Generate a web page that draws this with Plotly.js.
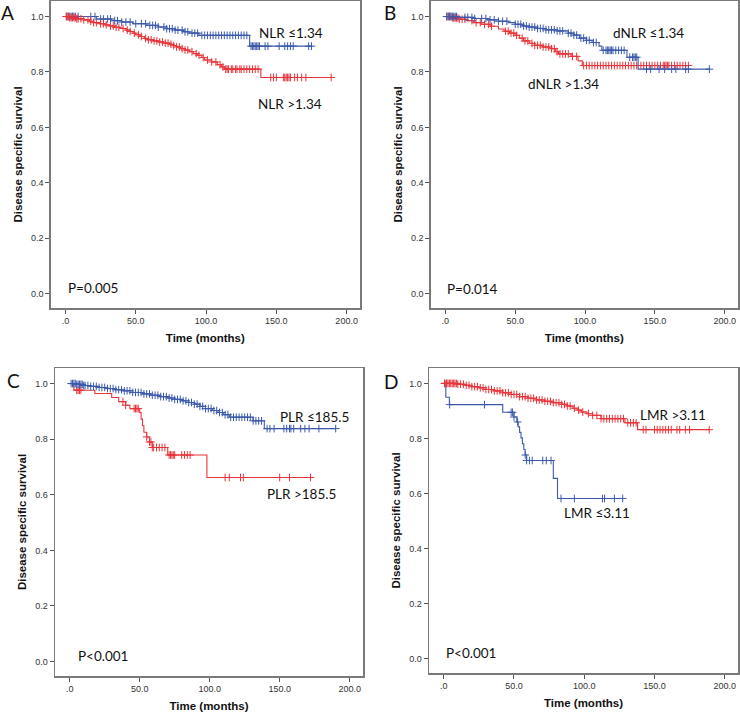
<!DOCTYPE html>
<html>
<head>
<meta charset="utf-8">
<script src="https://cdn.plot.ly/plotly-3.0.1.min.js"></script>
<style>html,body{margin:0;padding:0;background:#fff;}#chart{width:740px;height:712px;}</style>
</head>
<body>
<div id="chart"></div>
<script>
// ---------- DATA ----------
const panelLetters = ['A', 'B', 'C', 'D'];
const pValues = ['P=0.005', 'P=0.014', 'P<0.001', 'P<0.001'];
const xTickVals = [0, 50, 100, 150, 200];
const xTickText = ['.0', '50.0', '100.0', '150.0', '200.0'];
const yTickVals = [0, 0.2, 0.4, 0.6, 0.8, 1.0];
const yTickText = ['0.0', '0.2', '0.4', '0.6', '0.8', '1.0'];

// Panel A : NLR
const aLowLabel = 'NLR ≤1.34';
const aLowEvents = [22, 33, 40, 48, 58, 66, 72, 78, 84, 88, 95, 131];
const aLowSurv = [0.991, 0.985, 0.980, 0.974, 0.968, 0.962, 0.956, 0.951, 0.945, 0.940, 0.932, 0.893];
const aLowCensor = [1,2,3,4,5,6,7,9,18,21,25,27,30,32,35,37,40,43,46,50,54,57,60,62,64,66,70,72,74,76,78,80,83,85,87,90,92,94,97,99,101,103,105,107,109,111,113,115,117,119,121,123,125,127,129,132,133,134,135,136,137,138,142,144,152,156,158,160,162,173,175];
const aHighLabel = 'NLR >1.34';
const aHighEvents = [3, 8, 13, 17, 20, 24, 28, 31, 35, 39, 43, 46, 48, 50, 53, 56, 58, 62, 66, 70, 74, 77, 79, 82, 85, 88, 91, 94, 97, 99, 104, 108, 111, 113, 139];
const aHighSurv = [0.996, 0.992, 0.988, 0.983, 0.978, 0.974, 0.970, 0.966, 0.961, 0.957, 0.951, 0.946, 0.940, 0.934, 0.928, 0.921, 0.916, 0.912, 0.908, 0.904, 0.900, 0.895, 0.890, 0.884, 0.879, 0.873, 0.866, 0.860, 0.852, 0.843, 0.836, 0.826, 0.818, 0.810, 0.780];
const aHighCensor = [0.5,1,2,3,4,5,6,7,8,9,11,13,16,18,20,22,25,27,29,32,34,36,38,41,44,46,49,52,54,57,59,61,63,65,67,69,71,73,75,77,79,81,83,85,87,90,93,95,98,101,104,107,110,112,114,115,116,118,119,121,122,124,125,127,129,131,133,135,137,146,148,150,155,156,157,158,159,160,163,165,168,171,189];

// Panel B : dNLR
const bLowLabel = 'dNLR ≤1.34';
const bLowEvents = [10, 20, 30, 38, 45, 50, 55, 60, 66, 72, 80, 88, 92, 96, 101, 105, 110, 112, 130, 138];
const bLowSurv = [0.997, 0.993, 0.988, 0.983, 0.978, 0.972, 0.966, 0.962, 0.957, 0.952, 0.948, 0.940, 0.933, 0.922, 0.914, 0.906, 0.893, 0.878, 0.853, 0.810];
const bLowCensor = [1,2,3,4,5,6,7,8,14,16,19,21,26,29,32,35,38,41,44,50,52,54,56,58,60,62,64,66,68,70,72,74,76,78,80,82,84,88,90,92,94,97,99,101,103,106,108,113,115,116,117,118,119,120,122,124,126,128,132,134,135,136,137,144,147,153,157,162,165,172,174,189];
const bHighLabel = 'dNLR >1.34';
const bHighEvents = [5, 10, 15, 20, 26, 32, 38, 42, 46, 50, 53, 56, 60, 64, 70, 76, 79, 81, 90, 95, 98];
const bHighSurv = [0.995, 0.990, 0.985, 0.978, 0.972, 0.965, 0.955, 0.947, 0.940, 0.932, 0.922, 0.912, 0.903, 0.896, 0.890, 0.884, 0.873, 0.865, 0.856, 0.840, 0.823];
const bHighCensor = [1,2,3,4,5,6,7,8,9,10,12,14,19,22,25,28,31,33,43,45,47,49,51,55,57,59,62,64,66,68,70,72,74,76,78,80,82,84,86,88,91,94,99,101,103,105,107,109,111,113,115,117,119,121,123,125,127,129,131,133,135,137,140,142,144,146,148,150,152,154,156,157,158,159,160,162,164,166,168,170,172,174];

// Panel C : PLR
const cLowLabel = 'PLR ≤185.5';
const cLowEvents = [5, 10, 15, 20, 26, 32, 38, 45, 52, 58, 64, 70, 75, 80, 85, 89, 93, 97, 102, 106, 110, 114, 131, 139];
const cLowSurv = [0.997, 0.993, 0.990, 0.986, 0.982, 0.978, 0.974, 0.968, 0.963, 0.958, 0.953, 0.948, 0.943, 0.938, 0.932, 0.926, 0.918, 0.910, 0.903, 0.896, 0.888, 0.879, 0.866, 0.838];
const cLowCensor = [1,2,3,4,5,6,7,8,9,10,11,13,15,17,19,21,23,25,27,29,31,33,35,37,39,41,43,45,47,49,51,53,55,57,59,61,63,65,67,69,71,73,75,77,79,81,83,85,87,89,91,93,95,97,99,101,103,105,107,109,111,113,115,117,119,121,123,125,127,129,131,133,135,137,141,143,146,153,155,157,158,160,165,168,171,178,190];
const cHighLabel = 'PLR >185.5';
const cHighEvents = [3, 18, 30, 35, 40, 43, 50, 51, 52, 53, 55, 57, 59, 70, 98];
const cHighSurv = [0.976, 0.964, 0.950, 0.935, 0.922, 0.910, 0.896, 0.872, 0.848, 0.825, 0.808, 0.790, 0.770, 0.743, 0.662];
const cHighCensor = [5,6,7,8,38,40,46,47,48,49,55,57,58,59,60,62,64,66,68,71,72,73,74,75,80,82,84,86,111,114,122,124,150,157,172];

// Panel D : LMR
const dHighLabel = 'LMR >3.11';
const dHighEvents = [10, 15, 20, 25, 30, 36, 42, 48, 54, 60, 66, 72, 78, 84, 88, 92, 95, 98, 102, 106, 112, 129, 138];
const dHighSurv = [0.997, 0.993, 0.988, 0.984, 0.978, 0.973, 0.966, 0.960, 0.952, 0.946, 0.940, 0.935, 0.930, 0.924, 0.918, 0.910, 0.903, 0.896, 0.890, 0.884, 0.872, 0.857, 0.832];
const dHighCensor = [0.5,1,2,3,4,5,6,7,8,9,10,12,14,16,18,20,22,24,26,28,30,32,34,36,38,40,42,44,46,48,50,52,54,56,58,60,62,64,66,68,70,72,74,76,78,80,82,84,86,88,90,93,96,99,103,106,109,112,114,116,118,120,122,124,126,128,131,133,135,137,142,144,150,152,154,156,158,160,162,166,168,172,175,189];
const dLowLabel = 'LMR ≤3.11';
const dLowEvents = [1.5, 4, 42, 50, 52, 53, 54, 55, 56, 57, 58, 59, 78, 81];
const dLowSurv = [0.950, 0.923, 0.895, 0.878, 0.860, 0.842, 0.822, 0.802, 0.781, 0.760, 0.740, 0.720, 0.655, 0.582];
const dLowCensor = [4.2, 29, 48, 49, 50, 52.6, 58, 59, 61, 63, 70.5, 73, 76.4, 83.5, 93, 113, 114.5, 121.5, 127.4];

// ---------- STYLE ----------
const RED = '#e8343a';
const BLUE = '#3c5aac';

function stepAt(events, surv, t) {
  let s = 1;
  for (let i = 0; i < events.length; i++) { if (events[i] <= t) s = surv[i]; }
  return s;
}

function kmTraces(events, surv, censor, color, xa, ya, name) {
  const end = Math.max(...censor, ...events);
  const lx = [0].concat(events, [end]);
  const ly = [1].concat(surv, [surv[surv.length - 1]]);
  const line = {
    type: 'scatter', mode: 'lines', x: lx, y: ly, xaxis: xa, yaxis: ya,
    line: {shape: 'hv', color: color, width: 1.1}, name: name, showlegend: false, hoverinfo: 'skip'
  };
  const marks = {
    type: 'scatter', mode: 'markers', x: censor, y: censor.map(t => stepAt(events, surv, t)),
    xaxis: xa, yaxis: ya, name: name + ' censored', showlegend: false,
    marker: {symbol: 'cross-thin', size: 5.5, color: color, line: {color: color, width: 1}}
  };
  return [line, marks];
}

const data = [].concat(
  kmTraces(aLowEvents, aLowSurv, aLowCensor, BLUE, 'x', 'y', aLowLabel),
  kmTraces(aHighEvents, aHighSurv, aHighCensor, RED, 'x', 'y', aHighLabel),
  kmTraces(bHighEvents, bHighSurv, bHighCensor, RED, 'x2', 'y2', bHighLabel),
  kmTraces(bLowEvents, bLowSurv, bLowCensor, BLUE, 'x2', 'y2', bLowLabel),
  kmTraces(cHighEvents, cHighSurv, cHighCensor, RED, 'x3', 'y3', cHighLabel),
  kmTraces(cLowEvents, cLowSurv, cLowCensor, BLUE, 'x3', 'y3', cLowLabel),
  kmTraces(dLowEvents, dLowSurv, dLowCensor, BLUE, 'x4', 'y4', dLowLabel),
  kmTraces(dHighEvents, dHighSurv, dHighCensor, RED, 'x4', 'y4', dHighLabel)
);

const W = 740, H = 712;
// panel frames in pixels [left, right, top, bottom]
const frames = [[50.7, 360, 1, 308], [430.7, 738, 1, 308], [55, 363, 368, 676], [429, 738, 368, 673]];

const tickFont = {family: '"Liberation Sans", Arial, sans-serif', size: 9, color: '#333'};
const titleFont = {family: '"Liberation Sans", Arial, sans-serif', size: 11.5, color: '#111', weight: 'bold'};

function xAxis(i, f) {
  return {
    domain: [f[0] / W, f[1] / W], anchor: 'y' + (i ? i + 1 : ''), range: [-10.5, 209.5],
    tickmode: 'array', tickvals: xTickVals, ticktext: xTickText, ticks: 'outside', ticklen: 4,
    tickcolor: '#555', tickwidth: 1, tickfont: tickFont, showgrid: false, zeroline: false,
    showline: true, mirror: true, linecolor: '#7a7a7a', linewidth: 1.5,
    title: {text: '<b>Time (months)</b>', font: titleFont, standoff: 8}, fixedrange: true
  };
}
function yAxis(i, f) {
  return {
    domain: [1 - f[3] / H, 1 - f[2] / H], anchor: 'x' + (i ? i + 1 : ''), range: [-0.052, 1.056],
    tickmode: 'array', tickvals: yTickVals, ticktext: yTickText, ticks: 'outside', ticklen: 4,
    tickcolor: '#555', tickwidth: 1, tickfont: tickFont, showgrid: false, zeroline: false,
    showline: true, mirror: true, linecolor: '#7a7a7a', linewidth: 1.5,
    title: {text: '<b>Disease specific survival</b>', font: titleFont, standoff: 6}, fixedrange: true
  };
}

const layout = {
  width: W, height: H, margin: {l: 0, r: 0, t: 0, b: 0}, paper_bgcolor: '#fff', plot_bgcolor: '#fff',
  showlegend: false, annotations: []
};
frames.forEach((f, i) => {
  const s = i ? String(i + 1) : '';
  layout['xaxis' + s] = xAxis(i, f);
  layout['yaxis' + s] = yAxis(i, f);
});

const labelFont = {family: 'Lato, Carlito, sans-serif', size: 13.5, color: '#111'};
function ann(text, xref, yref, x, y, font) {
  return {text: text, xref: xref, yref: yref, x: x, y: y, showarrow: false, font: font || labelFont, xanchor: 'center', yanchor: 'middle'};
}
const letterFont = {family: 'Lato, Carlito, sans-serif', size: 19, color: '#111'};
const letterPos = [[7, 13], [389.5, 12.5], [13, 380], [391, 381]];
letterPos.forEach((p, i) => layout.annotations.push(ann(panelLetters[i], 'paper', 'paper', p[0] / W, 1 - p[1] / H, letterFont)));

layout.annotations.push(
  ann(aLowLabel, 'x', 'y', 160.4, 0.94),
  ann(aHighLabel, 'x', 'y', 160, 0.686),
  ann(pValues[0], 'x', 'y', 19.4, 0.019),
  ann(bLowLabel, 'x2', 'y2', 145.5, 0.941),
  ann(bHighLabel, 'x2', 'y2', 84.3, 0.757),
  ann(pValues[1], 'x2', 'y2', 19.6, 0.018),
  ann(cLowLabel, 'x3', 'y3', 174.6, 0.880),
  ann(cHighLabel, 'x3', 'y3', 165.8, 0.601),
  ann(pValues[2], 'x3', 'y3', 23.6, 0.020),
  ann(dHighLabel, 'x4', 'y4', 163, 0.884),
  ann(dLowLabel, 'x4', 'y4', 109.3, 0.530),
  ann(pValues[3], 'x4', 'y4', 19.6, 0.021)
);

Plotly.newPlot('chart', data, layout, {staticPlot: true, displayModeBar: false});
</script>
</body>
</html>
